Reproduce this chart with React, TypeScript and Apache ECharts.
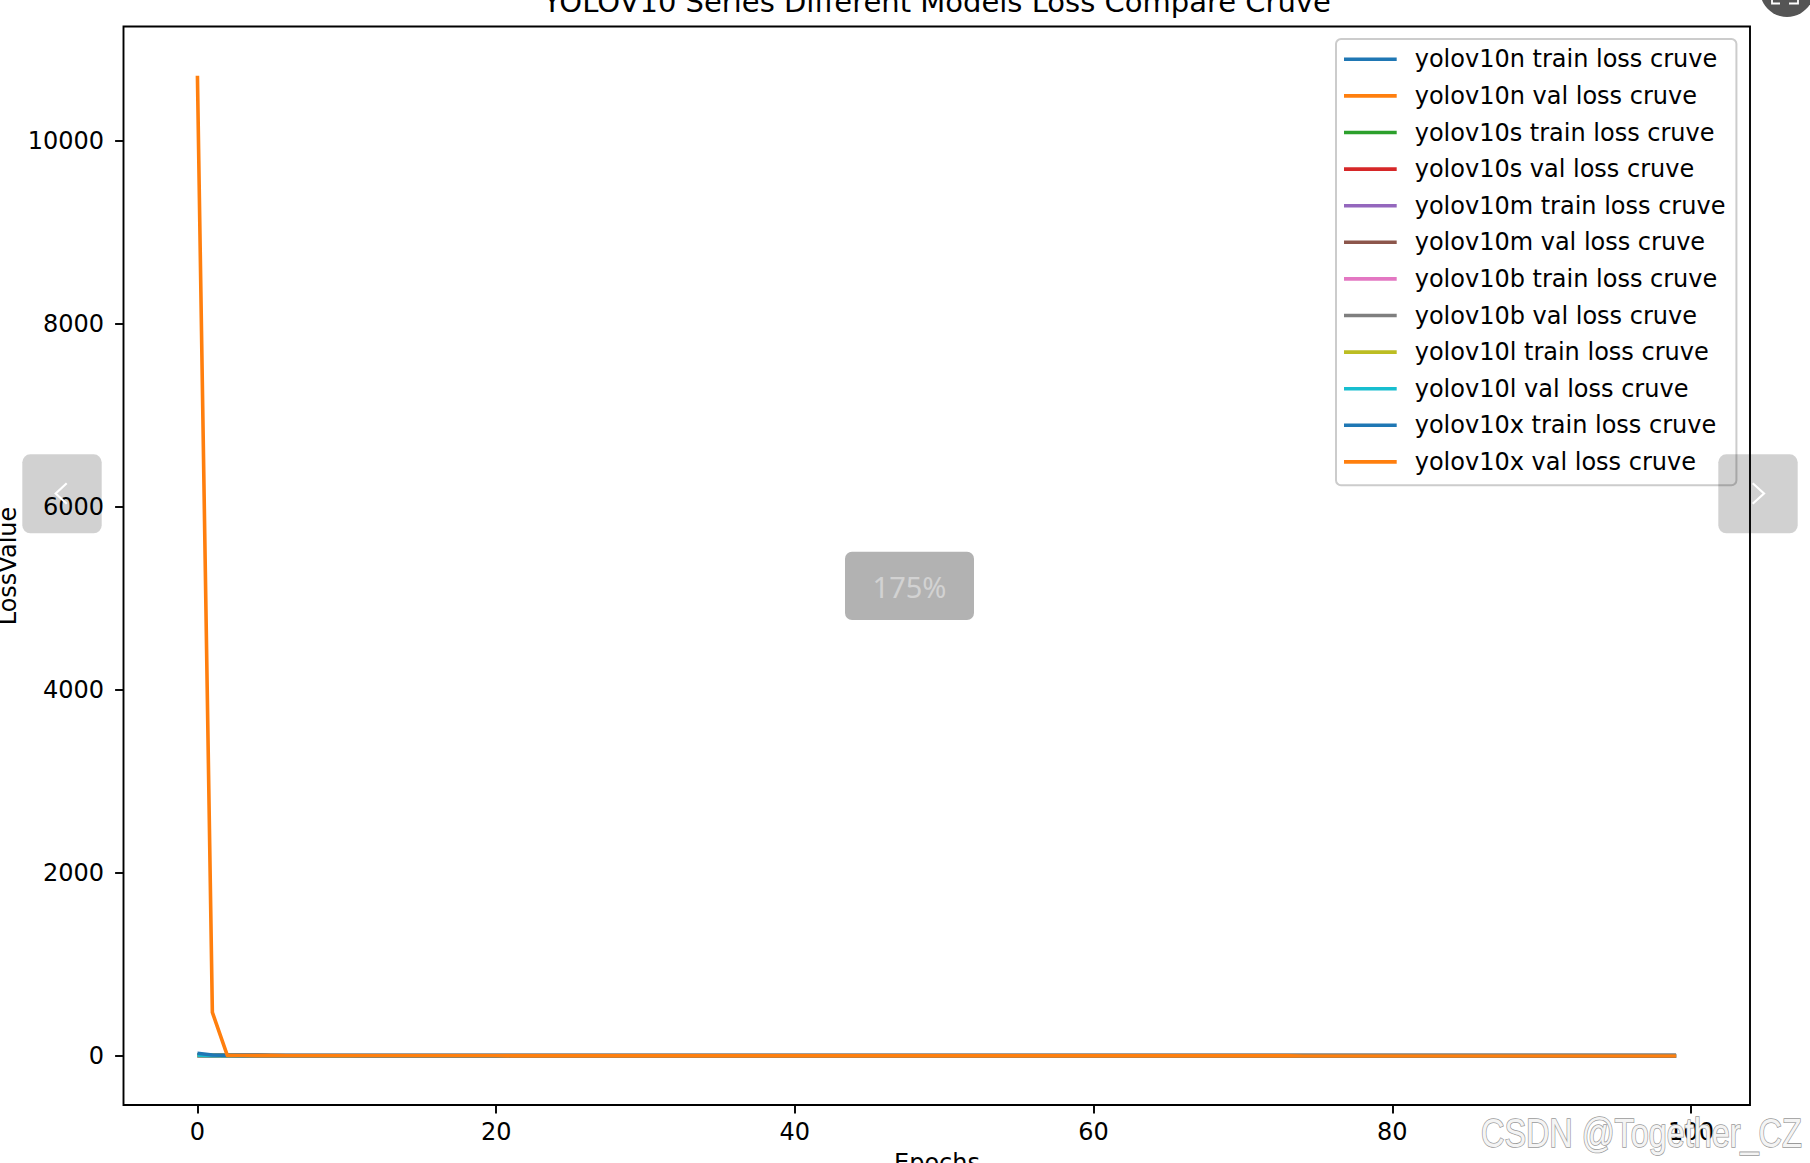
import React, { useEffect, useRef } from 'react';
import * as echarts from 'echarts';

const EPOCH_TICKS = [0, 20, 40, 60, 80, 100];
const LOSS_TICKS = [0, 2000, 4000, 6000, 8000, 10000];

const SERIES_NAMES = [
  'yolov10n train loss cruve',
  'yolov10n val loss cruve',
  'yolov10s train loss cruve',
  'yolov10s val loss cruve',
  'yolov10m train loss cruve',
  'yolov10m val loss cruve',
  'yolov10b train loss cruve',
  'yolov10b val loss cruve',
  'yolov10l train loss cruve',
  'yolov10l val loss cruve',
  'yolov10x train loss cruve',
  'yolov10x val loss cruve',
];

const SERIES_COLORS = [
  '#1f77b4', '#ff7f0e', '#2ca02c', '#d62728', '#9467bd', '#8c564b',
  '#e377c2', '#7f7f7f', '#bcbd22', '#17becf', '#1f77b4', '#ff7f0e',
];

const nTrain = [
  9.8, 8.1, 7.2, 6.7, 6.3, 6.0, 5.8, 5.6, 5.5, 5.3,
  5.2, 5.1, 5.0, 4.9, 4.9, 4.8, 4.7, 4.7, 4.6, 4.6,
  4.5, 4.5, 4.4, 4.4, 4.3, 4.3, 4.3, 4.2, 4.2, 4.2,
  4.1, 4.1, 4.1, 4.0, 4.0, 4.0, 3.9, 3.9, 3.9, 3.9,
  3.8, 3.8, 3.8, 3.8, 3.7, 3.7, 3.7, 3.7, 3.6, 3.6,
  3.6, 3.6, 3.5, 3.5, 3.5, 3.5, 3.5, 3.4, 3.4, 3.4,
  3.4, 3.3, 3.3, 3.3, 3.3, 3.3, 3.2, 3.2, 3.2, 3.2,
  3.1, 3.1, 3.1, 3.1, 3.0, 3.0, 3.0, 3.0, 2.9, 2.9,
  2.9, 2.9, 2.8, 2.8, 2.8, 2.7, 2.7, 2.7, 2.6, 2.6,
  2.5, 2.5, 2.4, 2.4, 2.3, 2.3, 2.2, 2.2, 2.1, 2.1,
];
const nVal = [
  8.2, 7.1, 6.5, 6.2, 6.0, 5.8, 5.7, 5.6, 5.5, 5.4,
  5.3, 5.3, 5.2, 5.1, 5.1, 5.0, 5.0, 4.9, 4.9, 4.9,
  4.8, 4.8, 4.8, 4.7, 4.7, 4.7, 4.6, 4.6, 4.6, 4.6,
  4.5, 4.5, 4.5, 4.5, 4.4, 4.4, 4.4, 4.4, 4.4, 4.3,
  4.3, 4.3, 4.3, 4.3, 4.2, 4.2, 4.2, 4.2, 4.2, 4.2,
  4.1, 4.1, 4.1, 4.1, 4.1, 4.1, 4.0, 4.0, 4.0, 4.0,
  4.0, 4.0, 4.0, 3.9, 3.9, 3.9, 3.9, 3.9, 3.9, 3.9,
  3.9, 3.8, 3.8, 3.8, 3.8, 3.8, 3.8, 3.8, 3.8, 3.8,
  3.8, 3.7, 3.7, 3.7, 3.7, 3.7, 3.7, 3.7, 3.7, 3.7,
  3.7, 3.7, 3.6, 3.6, 3.6, 3.6, 3.6, 3.6, 3.6, 3.6,
];
const sTrain = [
  9.5, 7.8, 6.9, 6.4, 6.0, 5.7, 5.5, 5.3, 5.1, 5.0,
  4.9, 4.8, 4.7, 4.6, 4.5, 4.5, 4.4, 4.3, 4.3, 4.2,
  4.2, 4.1, 4.1, 4.0, 4.0, 4.0, 3.9, 3.9, 3.8, 3.8,
  3.8, 3.7, 3.7, 3.7, 3.6, 3.6, 3.6, 3.5, 3.5, 3.5,
  3.5, 3.4, 3.4, 3.4, 3.4, 3.3, 3.3, 3.3, 3.3, 3.2,
  3.2, 3.2, 3.2, 3.1, 3.1, 3.1, 3.1, 3.0, 3.0, 3.0,
  3.0, 2.9, 2.9, 2.9, 2.9, 2.8, 2.8, 2.8, 2.8, 2.7,
  2.7, 2.7, 2.7, 2.6, 2.6, 2.6, 2.5, 2.5, 2.5, 2.4,
  2.4, 2.4, 2.3, 2.3, 2.3, 2.2, 2.2, 2.1, 2.1, 2.0,
  2.0, 1.9, 1.9, 1.8, 1.8, 1.7, 1.7, 1.6, 1.6, 1.5,
];
const sVal = [
  7.6, 6.6, 6.0, 5.7, 5.5, 5.3, 5.2, 5.1, 5.0, 4.9,
  4.8, 4.8, 4.7, 4.6, 4.6, 4.5, 4.5, 4.4, 4.4, 4.4,
  4.3, 4.3, 4.3, 4.2, 4.2, 4.2, 4.1, 4.1, 4.1, 4.1,
  4.0, 4.0, 4.0, 4.0, 3.9, 3.9, 3.9, 3.9, 3.9, 3.8,
  3.8, 3.8, 3.8, 3.8, 3.7, 3.7, 3.7, 3.7, 3.7, 3.7,
  3.6, 3.6, 3.6, 3.6, 3.6, 3.6, 3.6, 3.5, 3.5, 3.5,
  3.5, 3.5, 3.5, 3.5, 3.4, 3.4, 3.4, 3.4, 3.4, 3.4,
  3.4, 3.4, 3.4, 3.3, 3.3, 3.3, 3.3, 3.3, 3.3, 3.3,
  3.3, 3.3, 3.3, 3.2, 3.2, 3.2, 3.2, 3.2, 3.2, 3.2,
  3.2, 3.2, 3.2, 3.2, 3.2, 3.1, 3.1, 3.1, 3.1, 3.1,
];
const mTrain = [
  9.1, 7.4, 6.5, 6.0, 5.6, 5.3, 5.1, 4.9, 4.7, 4.6,
  4.5, 4.4, 4.3, 4.2, 4.1, 4.1, 4.0, 3.9, 3.9, 3.8,
  3.8, 3.7, 3.7, 3.6, 3.6, 3.6, 3.5, 3.5, 3.4, 3.4,
  3.4, 3.3, 3.3, 3.3, 3.2, 3.2, 3.2, 3.1, 3.1, 3.1,
  3.1, 3.0, 3.0, 3.0, 3.0, 2.9, 2.9, 2.9, 2.9, 2.8,
  2.8, 2.8, 2.8, 2.7, 2.7, 2.7, 2.7, 2.6, 2.6, 2.6,
  2.6, 2.5, 2.5, 2.5, 2.5, 2.4, 2.4, 2.4, 2.4, 2.3,
  2.3, 2.3, 2.2, 2.2, 2.2, 2.2, 2.1, 2.1, 2.1, 2.0,
  2.0, 2.0, 1.9, 1.9, 1.9, 1.8, 1.8, 1.7, 1.7, 1.7,
  1.6, 1.6, 1.5, 1.5, 1.4, 1.4, 1.4, 1.3, 1.3, 1.3,
];
const mVal = [
  7.2, 6.3, 5.7, 5.4, 5.2, 5.0, 4.9, 4.8, 4.7, 4.6,
  4.5, 4.5, 4.4, 4.3, 4.3, 4.2, 4.2, 4.1, 4.1, 4.1,
  4.0, 4.0, 4.0, 3.9, 3.9, 3.9, 3.8, 3.8, 3.8, 3.8,
  3.7, 3.7, 3.7, 3.7, 3.6, 3.6, 3.6, 3.6, 3.6, 3.5,
  3.5, 3.5, 3.5, 3.5, 3.4, 3.4, 3.4, 3.4, 3.4, 3.4,
  3.3, 3.3, 3.3, 3.3, 3.3, 3.3, 3.3, 3.2, 3.2, 3.2,
  3.2, 3.2, 3.2, 3.2, 3.1, 3.1, 3.1, 3.1, 3.1, 3.1,
  3.1, 3.1, 3.1, 3.0, 3.0, 3.0, 3.0, 3.0, 3.0, 3.0,
  3.0, 3.0, 3.0, 3.0, 2.9, 2.9, 2.9, 2.9, 2.9, 2.9,
  2.9, 2.9, 2.9, 2.9, 2.9, 2.9, 2.9, 2.9, 2.9, 2.9,
];
const bTrain = [
  8.9, 7.2, 6.3, 5.8, 5.4, 5.1, 4.9, 4.7, 4.5, 4.4,
  4.3, 4.2, 4.1, 4.0, 3.9, 3.9, 3.8, 3.7, 3.7, 3.6,
  3.6, 3.5, 3.5, 3.4, 3.4, 3.4, 3.3, 3.3, 3.2, 3.2,
  3.2, 3.1, 3.1, 3.1, 3.0, 3.0, 3.0, 2.9, 2.9, 2.9,
  2.9, 2.8, 2.8, 2.8, 2.8, 2.7, 2.7, 2.7, 2.7, 2.6,
  2.6, 2.6, 2.6, 2.5, 2.5, 2.5, 2.5, 2.4, 2.4, 2.4,
  2.4, 2.3, 2.3, 2.3, 2.3, 2.2, 2.2, 2.2, 2.2, 2.1,
  2.1, 2.1, 2.0, 2.0, 2.0, 2.0, 1.9, 1.9, 1.9, 1.8,
  1.8, 1.8, 1.7, 1.7, 1.7, 1.6, 1.6, 1.5, 1.5, 1.5,
  1.4, 1.4, 1.3, 1.3, 1.2, 1.2, 1.2, 1.1, 1.1, 1.1,
];
const bVal = [
  15.8, 15.1, 14.7, 14.4, 14.2, 14.0, 13.9, 13.8, 13.7, 13.6,
  13.5, 13.5, 13.4, 13.4, 13.3, 13.3, 13.2, 13.2, 13.1, 13.1,
  13.1, 13.0, 13.0, 13.0, 12.9, 12.9, 12.9, 12.8, 12.8, 12.8,
  12.8, 12.7, 12.7, 12.7, 12.7, 12.6, 12.6, 12.6, 12.6, 12.5,
  12.5, 12.5, 12.5, 12.5, 12.4, 12.4, 12.4, 12.4, 12.4, 12.3,
  12.3, 12.3, 12.3, 12.3, 12.3, 12.2, 12.2, 12.2, 12.2, 12.2,
  12.2, 12.1, 12.1, 12.1, 12.1, 12.1, 12.1, 12.0, 12.0, 12.0,
  12.0, 12.0, 12.0, 12.0, 11.9, 11.9, 11.9, 11.9, 11.9, 11.9,
  11.9, 11.9, 11.8, 11.8, 11.8, 11.8, 11.8, 11.8, 11.8, 11.8,
  11.8, 11.7, 11.7, 11.7, 11.7, 11.7, 11.7, 11.7, 11.7, 11.7,
];
const lTrain = [
  8.7, 7.0, 6.1, 5.6, 5.2, 4.9, 4.7, 4.5, 4.4, 4.2,
  4.1, 4.0, 3.9, 3.8, 3.8, 3.7, 3.6, 3.6, 3.5, 3.5,
  3.4, 3.4, 3.3, 3.3, 3.3, 3.2, 3.2, 3.1, 3.1, 3.1,
  3.0, 3.0, 3.0, 2.9, 2.9, 2.9, 2.8, 2.8, 2.8, 2.8,
  2.7, 2.7, 2.7, 2.7, 2.6, 2.6, 2.6, 2.6, 2.5, 2.5,
  2.5, 2.5, 2.4, 2.4, 2.4, 2.4, 2.3, 2.3, 2.3, 2.3,
  2.2, 2.2, 2.2, 2.2, 2.1, 2.1, 2.1, 2.1, 2.0, 2.0,
  2.0, 2.0, 1.9, 1.9, 1.9, 1.8, 1.8, 1.8, 1.8, 1.7,
  1.7, 1.7, 1.6, 1.6, 1.6, 1.5, 1.5, 1.5, 1.4, 1.4,
  1.3, 1.3, 1.3, 1.2, 1.2, 1.1, 1.1, 1.1, 1.0, 1.0,
];
const lVal = [
  7.0, 6.1, 5.5, 5.2, 5.0, 4.8, 4.7, 4.6, 4.5, 4.4,
  4.3, 4.3, 4.2, 4.1, 4.1, 4.0, 4.0, 3.9, 3.9, 3.9,
  3.8, 3.8, 3.8, 3.7, 3.7, 3.7, 3.6, 3.6, 3.6, 3.6,
  3.5, 3.5, 3.5, 3.5, 3.4, 3.4, 3.4, 3.4, 3.4, 3.3,
  3.3, 3.3, 3.3, 3.3, 3.2, 3.2, 3.2, 3.2, 3.2, 3.2,
  3.1, 3.1, 3.1, 3.1, 3.1, 3.1, 3.1, 3.0, 3.0, 3.0,
  3.0, 3.0, 3.0, 3.0, 2.9, 2.9, 2.9, 2.9, 2.9, 2.9,
  2.9, 2.9, 2.9, 2.8, 2.8, 2.8, 2.8, 2.8, 2.8, 2.8,
  2.8, 2.8, 2.8, 2.8, 2.7, 2.7, 2.7, 2.7, 2.7, 2.7,
  2.7, 2.7, 2.7, 2.7, 2.7, 2.7, 2.7, 2.7, 2.7, 2.7,
];
const xTrain = [
  31.4, 12.6, 8.3, 6.9, 6.1, 5.6, 5.2, 4.9, 4.7, 4.5,
  4.3, 4.2, 4.1, 4.0, 3.9, 3.8, 3.7, 3.7, 3.6, 3.5,
  3.5, 3.4, 3.4, 3.3, 3.3, 3.3, 3.2, 3.2, 3.1, 3.1,
  3.1, 3.0, 3.0, 3.0, 2.9, 2.9, 2.9, 2.8, 2.8, 2.8,
  2.8, 2.7, 2.7, 2.7, 2.7, 2.6, 2.6, 2.6, 2.6, 2.5,
  2.5, 2.5, 2.5, 2.4, 2.4, 2.4, 2.4, 2.3, 2.3, 2.3,
  2.3, 2.2, 2.2, 2.2, 2.2, 2.1, 2.1, 2.1, 2.1, 2.0,
  2.0, 2.0, 1.9, 1.9, 1.9, 1.9, 1.8, 1.8, 1.8, 1.7,
  1.7, 1.7, 1.6, 1.6, 1.6, 1.5, 1.5, 1.5, 1.4, 1.4,
  1.3, 1.3, 1.3, 1.2, 1.2, 1.1, 1.1, 1.1, 1.0, 1.0,
];
const xVal = [
  10712, 479, 9.6, 7.4, 6.5, 6.0, 5.7, 5.4, 5.2, 5.1,
  4.9, 4.8, 4.7, 4.7, 4.6, 4.5, 4.5, 4.4, 4.4, 4.3,
  4.3, 4.2, 4.2, 4.2, 4.1, 4.1, 4.1, 4.0, 4.0, 4.0,
  3.9, 3.9, 3.9, 3.9, 3.8, 3.8, 3.8, 3.8, 3.7, 3.7,
  3.7, 3.7, 3.7, 3.6, 3.6, 3.6, 3.6, 3.6, 3.5, 3.5,
  3.5, 3.5, 3.5, 3.5, 3.4, 3.4, 3.4, 3.4, 3.4, 3.4,
  3.3, 3.3, 3.3, 3.3, 3.3, 3.3, 3.3, 3.2, 3.2, 3.2,
  3.2, 3.2, 3.2, 3.2, 3.1, 3.1, 3.1, 3.1, 3.1, 3.1,
  3.1, 3.1, 3.0, 3.0, 3.0, 3.0, 3.0, 3.0, 3.0, 3.0,
  3.0, 3.0, 2.9, 2.9, 2.9, 2.9, 2.9, 2.9, 2.9, 2.9,
];

const SERIES_VALUES = [nTrain, nVal, sTrain, sVal, mTrain, mVal, bTrain, bVal, lTrain, lVal, xTrain, xVal];

const MPL_FONT = '"DejaVu Sans", Verdana, sans-serif';

export default function App() {
  const ref = useRef<HTMLDivElement>(null);

  useEffect(() => {
    if (!ref.current) return;
    const chart = echarts.init(ref.current, null, { renderer: 'svg' });

    const series = SERIES_NAMES.map((name, i) => ({
      name,
      type: 'line',
      data: SERIES_VALUES[i].map((v, epoch) => [epoch, v]),
      showSymbol: false,
      symbol: 'none',
      color: SERIES_COLORS[i],
      lineStyle: { width: 3.6, color: SERIES_COLORS[i], join: 'round', cap: 'butt' },
      emphasis: { disabled: true },
      silent: true,
      clip: true,
    }));

    const option = {
      animation: false,
      backgroundColor: '#ffffff',
      grid: {
        left: 123.5,
        right: 60,
        top: 26.5,
        bottom: 58,
        show: true,
        borderColor: '#000000',
        borderWidth: 1.9,
        backgroundColor: 'transparent',
      },
      xAxis: {
        type: 'value',
        min: -4.95,
        max: 103.95,
        axisLine: { show: false, onZero: false },
        splitLine: { show: false },
        axisTick: {
          show: true,
          customValues: EPOCH_TICKS,
          length: 8.4,
          lineStyle: { color: '#000', width: 1.9 },
        },
        axisLabel: {
          customValues: EPOCH_TICKS,
          formatter: (v: number) => String(v),
          margin: 15,
          fontSize: 24,
          color: '#000',
          fontFamily: MPL_FONT,
        },
      },
      yAxis: {
        type: 'value',
        min: -533,
        max: 11249,
        axisLine: { show: false, onZero: false },
        splitLine: { show: false },
        axisTick: {
          show: true,
          customValues: LOSS_TICKS,
          length: 8.4,
          lineStyle: { color: '#000', width: 1.9 },
        },
        axisLabel: {
          customValues: LOSS_TICKS,
          formatter: (v: number) => String(v),
          margin: 19.5,
          fontSize: 24,
          color: '#000',
          fontFamily: MPL_FONT,
        },
      },
      legend: {
        orient: 'vertical',
        left: 1336,
        top: 39,
        padding: [8.3, 11, 11.3, 8],
        itemWidth: 52.7,
        itemHeight: 3.6,
        itemGap: 12.6,
        icon: 'rect',
        itemStyle: { borderWidth: 0 },
        backgroundColor: 'rgba(255,255,255,0.8)',
        borderColor: '#cccccc',
        borderWidth: 2,
        borderRadius: 5,
        selectedMode: false,
        textStyle: {
          fontSize: 24,
          color: '#000',
          fontFamily: MPL_FONT,
          lineHeight: 24,
          padding: [0, 0, 0, 13],
        },
        data: SERIES_NAMES,
        z: 4,
      },
      series,
      graphic: [
        {
          type: 'text',
          x: 937,
          y: 1.7,
          style: {
            text: 'YOLOV10 Series Different Models Loss Compare Cruve',
            fontSize: 29,
            fontFamily: MPL_FONT,
            fill: '#000',
            align: 'center',
            verticalAlign: 'middle',
          },
        },
        {
          type: 'text',
          x: 7.7,
          y: 566,
          rotation: Math.PI / 2,
          style: {
            text: 'LossValue',
            fontSize: 24,
            fontFamily: MPL_FONT,
            fill: '#000',
            align: 'center',
            verticalAlign: 'middle',
          },
        },
        {
          type: 'text',
          x: 937,
          y: 1163,
          style: {
            text: 'Epochs',
            fontSize: 24,
            fontFamily: MPL_FONT,
            fill: '#000',
            align: 'center',
            verticalAlign: 'middle',
          },
        },
        {
          type: 'rect',
          z: 50,
          shape: { x: 22.3, y: 454.3, width: 79.4, height: 79, r: 8 },
          style: { fill: 'rgba(0,0,0,0.18)' },
        },
        {
          type: 'polyline',
          z: 51,
          shape: { points: [[66.7, 483.3], [55.7, 493.5], [66.7, 503.7]] },
          style: { stroke: '#ffffff', lineWidth: 2.2, fill: null },
        },
        {
          type: 'rect',
          z: 50,
          shape: { x: 1718.3, y: 454.3, width: 79.4, height: 79, r: 8 },
          style: { fill: 'rgba(0,0,0,0.18)' },
        },
        {
          type: 'polyline',
          z: 51,
          shape: { points: [[1752.7, 483.3], [1764, 493.5], [1752.7, 503.7]] },
          style: { stroke: '#ffffff', lineWidth: 2.2, fill: null },
        },
        {
          type: 'rect',
          z: 50,
          shape: { x: 845, y: 551.7, width: 129, height: 68.3, r: 7 },
          style: { fill: 'rgba(0,0,0,0.3)' },
        },
        {
          type: 'text',
          z: 51,
          x: 909.5,
          y: 586,
          style: {
            text: '175%',
            fontSize: 29,
            fontFamily: '"Noto Sans", "Open Sans", sans-serif',
            fill: '#d2d2d2',
            align: 'center',
            verticalAlign: 'middle',
          },
        },
        {
          type: 'circle',
          z: 50,
          shape: { cx: 1787, cy: -10, r: 27 },
          style: { fill: '#555555' },
        },
        {
          type: 'polyline',
          z: 51,
          shape: { points: [[1772, 0], [1772, 3.5], [1780, 3.5]] },
          style: { stroke: '#ffffff', lineWidth: 1.8, fill: null },
        },
        {
          type: 'polyline',
          z: 51,
          shape: { points: [[1789, 3.5], [1798, 3.5], [1798, 0]] },
          style: { stroke: '#ffffff', lineWidth: 1.8, fill: null },
        },
        {
          type: 'text',
          z: 60,
          x: 1481,
          y: 1133,
          scaleX: 0.81,
          style: {
            text: 'CSDN @Together_CZ',
            fontSize: 40,
            fontFamily: '"Liberation Sans", Arial, sans-serif',
            fill: '#f4f4f4',
            stroke: '#9a9a9a',
            lineWidth: 1.6,
            align: 'left',
            verticalAlign: 'middle',
          },
        },
      ],
    };

    chart.setOption(option as any);
    return () => chart.dispose();
  }, []);

  return (
    <div
      ref={ref}
      style={{ position: 'fixed', left: 0, top: 0, width: 1810, height: 1163, background: '#ffffff' }}
    />
  );
}
